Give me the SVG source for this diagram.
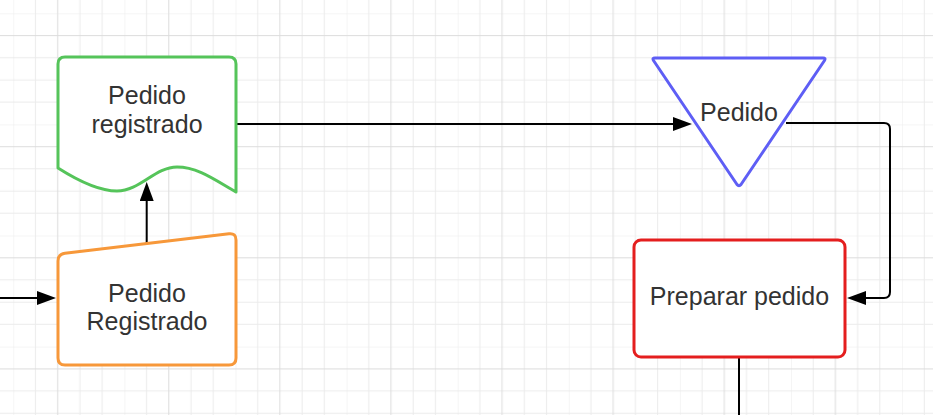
<svg xmlns="http://www.w3.org/2000/svg" width="933" height="415" viewBox="0 0 933 415">
  <defs>
    <pattern id="grid" patternUnits="userSpaceOnUse" x="13.26" y="13.3" width="111.1" height="111.1">
      <g stroke="#ebebeb" stroke-width="1" fill="none">
        <line x1="0" y1="0" x2="0" y2="111.1"/>
        <line x1="22.22" y1="0" x2="22.22" y2="111.1"/>
        <line x1="66.66" y1="0" x2="66.66" y2="111.1"/>
        <line x1="88.88" y1="0" x2="88.88" y2="111.1"/>
        <line x1="0" y1="0" x2="111.1" y2="0"/>
        <line x1="0" y1="44.44" x2="111.1" y2="44.44"/>
        <line x1="0" y1="66.66" x2="111.1" y2="66.66"/>
        <line x1="0" y1="88.88" x2="111.1" y2="88.88"/>
      </g>
      <g stroke="#dcdcdc" stroke-width="1" fill="none">
        <line x1="44.44" y1="0" x2="44.44" y2="111.1"/>
        <line x1="0" y1="22.22" x2="111.1" y2="22.22"/>
      </g>
    </pattern>
    <marker id="arrow" markerUnits="userSpaceOnUse" markerWidth="19" markerHeight="14" refX="9" refY="7" orient="auto">
      <path d="M0,0 L19,7 L0,14 Z" fill="#000"/>
    </marker>
  </defs>
  <style>
    .lbl { font-family: "Liberation Sans", Arial, sans-serif; font-size: 25px; fill: #333333; text-anchor: middle; }
    .conn { fill: none; stroke: #000; stroke-width: 2; }
    .shape { fill: #ffffff; stroke-width: 3; stroke-linejoin: round; }
  </style>
  <rect x="0" y="0" width="933" height="415" fill="#ffffff"/>
  <rect x="0" y="0" width="933" height="415" fill="url(#grid)"/>

  <g id="connectors">
    <path class="conn" d="M0,298 L46,298" marker-end="url(#arrow)"/>
    <path class="conn" d="M146.7,248 L146.7,192" marker-end="url(#arrow)"/>
    <path class="conn" d="M237,124 L682,124" marker-end="url(#arrow)"/>
    <path class="conn" d="M786,123 L884,123 Q890,123 890,129 L890,292 Q890,298 884,298 L857,298" marker-end="url(#arrow)"/>
    <path class="conn" d="M739,358 L739,415"/>
  </g>

  <g id="doc-pedido-registrado">
    <path class="shape" stroke="#55c45a" d="M58,168 L58,64 Q58,57 65,57 L229,57 Q236,57 236,64 L236,192 C215,180 198,167 177,167 C155,167 140,191 117,191 C100,191 80,182 58,168 Z"/>
    <text class="lbl" x="147" y="104">Pedido</text>
    <text class="lbl" x="147" y="133">registrado</text>
  </g>

  <g id="input-pedido-registrado">
    <path class="shape" stroke="#f7983a" stroke-width="2" d="M58,261 Q58,254 65,253.2 L229,233.8 Q236,233 236,240 L236,358 Q236,365 229,365 L65,365 Q58,365 58,358 Z"/>
    <text class="lbl" x="147" y="302">Pedido</text>
    <text class="lbl" x="147" y="330">Registrado</text>
  </g>

  <g id="tri-pedido">
    <path class="shape" stroke="#5e5ef5" d="M655,58 L823,58 Q826,58 824.5,60.5 L741,184.5 Q739,187 737,184.5 L653.5,60.5 Q652,58 655,58 Z"/>
    <text class="lbl" x="739" y="121">Pedido</text>
  </g>

  <g id="proc-preparar-pedido">
    <rect class="shape" stroke="#e41e1e" x="634" y="240" width="211" height="117" rx="7" ry="7"/>
    <text class="lbl" x="739.5" y="305">Preparar pedido</text>
  </g>
</svg>
